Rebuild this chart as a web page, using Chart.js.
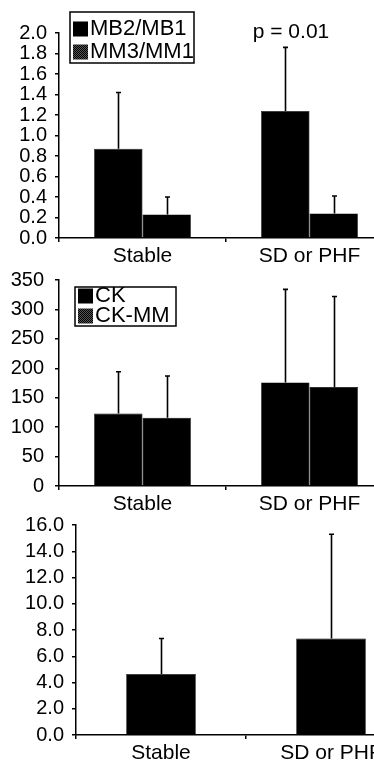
<!DOCTYPE html>
<html>
<head>
<meta charset="utf-8">
<script src="https://cdn.jsdelivr.net/npm/chart.js@4/dist/chart.umd.min.js"></script>
<style>
html,body{margin:0;padding:0;background:#fff;width:374px;height:760px;overflow:hidden;position:relative;}
.p{position:absolute;left:0;}
canvas{display:block;}
</style>
</head>
<body>
<div class="p" style="top:0px"><canvas id="c1" width="400" height="270"></canvas></div>
<div class="p" style="top:250px"><canvas id="c2" width="400" height="270"></canvas></div>
<div class="p" style="top:500px"><canvas id="c3" width="420" height="260"></canvas></div>
<script>
// ---- data ----
const categories = ["Stable", "SD or PHF"];

const ratioLabels = ["MB2/MB1", "MM3/MM1"];
const mb2mb1 = [0.87, 1.24];
const mb2mb1Upper = [1.42, 1.86];
const mm3mm1 = [0.23, 0.24];
const mm3mm1Upper = [0.40, 0.41];
const pValueText = "p = 0.01";

const ckLabels = ["CK", "CK-MM"];
const ck = [123, 176];
const ckUpper = [194, 334];
const ckmm = [116, 168];
const ckmmUpper = [187, 322];

const panel3 = [4.65, 7.35];
const panel3Upper = [7.35, 15.3];

// ---- helpers ----
const FONT = "'Liberation Sans', Arial, Helvetica, sans-serif";

function makePattern() {
  const c = document.createElement('canvas');
  c.width = 2; c.height = 2;
  const x = c.getContext('2d');
  x.fillStyle = '#555'; x.fillRect(0,0,2,2);
  x.fillStyle = '#000'; x.fillRect(0,0,1,1); x.fillRect(1,1,1,1);
  return document.createElement('canvas').getContext('2d').createPattern(c, 'repeat');
}
const hatch = makePattern();

const errBarsPlugin = {
  id: 'errBars',
  afterDatasetsDraw(chart, args, opts) {
    const ctx = chart.ctx;
    const ys = chart.scales.y;
    ctx.save();
    ctx.strokeStyle = '#000';
    ctx.lineWidth = 1.6;
    (opts.upper || []).forEach((arr, di) => {
      const meta = chart.getDatasetMeta(di);
      meta.data.forEach((bar, i) => {
        const x = Math.round(bar.x) + 0.5;
        const yTop = ys.getPixelForValue(arr[i]);
        ctx.beginPath();
        ctx.moveTo(x, bar.y);
        ctx.lineTo(x, yTop);
        ctx.moveTo(x - 2.5, yTop);
        ctx.lineTo(x + 2.5, yTop);
        ctx.stroke();
      });
    });
    ctx.restore();
  }
};

const boxLegendPlugin = {
  id: 'boxLegend',
  afterDraw(chart, args, o) {
    if (!o || !o.items) return;
    const ctx = chart.ctx;
    ctx.save();
    ctx.strokeStyle = '#000';
    ctx.lineWidth = 1.5;
    ctx.strokeRect(o.x, o.y, o.w, o.h);
    ctx.font = o.fontSize + 'px ' + FONT;
    ctx.textBaseline = 'middle';
    ctx.textAlign = 'left';
    o.items.forEach((it, i) => {
      const cy = o.y + o.firstRow + i * o.rowH;
      ctx.fillStyle = it.fill;
      ctx.fillRect(o.x + 3, cy - o.sw / 2, o.sw, o.sw);
      ctx.fillStyle = '#000';
      ctx.fillText(it.label, o.x + 4 + o.sw + 1, cy);
    });
    if (o.note) {
      ctx.font = o.note.size + 'px ' + FONT;
      ctx.textAlign = 'center';
      ctx.fillText(o.note.text, o.note.x, o.note.y);
    }
    ctx.restore();
  }
};

function makeChart(id, datasets, cfg) {
  return new Chart(document.getElementById(id), {
    type: 'bar',
    data: { labels: categories, datasets },
    plugins: [errBarsPlugin, boxLegendPlugin],
    options: {
      responsive: false,
      animation: false,
      devicePixelRatio: 1,
      layout: { padding: cfg.padding },
      plugins: {
        legend: { display: false },
        tooltip: { enabled: false },
        errBars: { upper: cfg.upper },
        boxLegend: cfg.legend || {}
      },
      datasets: { bar: { categoryPercentage: cfg.catPct, barPercentage: 1.0, borderWidth: 0.6, borderColor: '#000', borderSkipped: 'bottom' } },
      scales: {
        x: {
          grid: { display: true, drawOnChartArea: false, drawTicks: true, tickLength: 4, color: '#000', lineWidth: 1.5, offset: true },
          border: { display: true, color: '#000', width: 1.5 },
          ticks: { color: '#000', font: { family: FONT, size: 21 }, padding: cfg.xPad, maxRotation: 0 },
          afterFit(s) { s.height = cfg.xHeight; }
        },
        y: {
          min: cfg.min, max: cfg.max,
          grid: { display: true, drawOnChartArea: false, drawTicks: true, tickLength: 4, color: '#000', lineWidth: 1.5 },
          border: { display: true, color: '#000', width: 1.5 },
          ticks: { stepSize: cfg.step, color: '#000', font: { family: FONT, size: 20 }, padding: cfg.yPad,
                   callback: cfg.fmt, autoSkip: false },
          afterFit(s) { s.width = cfg.yWidth; }
        }
      }
    }
  });
}

// Panel 1
makeChart('c1', [
  { label: ratioLabels[0], data: mb2mb1, backgroundColor: '#000' },
  { label: ratioLabels[1], data: mm3mm1, backgroundColor: '#000' }
], {
  padding: { top: 33, right: 7, left: 0, bottom: 0 },
  upper: [mb2mb1Upper, mm3mm1Upper],
  catPct: 0.58, min: 0, max: 2.0, step: 0.2, fmt: v => v.toFixed(1),
  xHeight: 32, yWidth: 59, xPad: 2, yPad: 8,
  legend: { x: 70, y: 12, w: 124, h: 51, firstRow: 17, rowH: 23, sw: 15, fontSize: 22,
            items: [{ label: ratioLabels[0], fill: '#000' }, { label: ratioLabels[1], fill: hatch }],
            note: { text: pValueText, x: 291, y: 32, size: 21 } }
});

// Panel 2
makeChart('c2', [
  { label: ckLabels[0], data: ck, backgroundColor: '#000' },
  { label: ckLabels[1], data: ckmm, backgroundColor: '#000' }
], {
  padding: { top: 30, right: 7, left: 0, bottom: 0 },
  upper: [ckUpper, ckmmUpper],
  catPct: 0.58, min: 0, max: 350, step: 50, fmt: v => String(Math.round(v)),
  xHeight: 34, yWidth: 59, xPad: 2, yPad: 11,
  legend: { x: 75, y: 37, w: 101, h: 39, firstRow: 9, rowH: 20, sw: 15, fontSize: 22,
            items: [{ label: ckLabels[0], fill: '#000' }, { label: ckLabels[1], fill: hatch }] }
});

// Panel 3
makeChart('c3', [
  { label: 'value', data: panel3, backgroundColor: '#000' }
], {
  padding: { top: 25, right: 4, left: 0, bottom: 0 },
  upper: [panel3Upper],
  catPct: 0.41, min: 0, max: 16, step: 2, fmt: v => v.toFixed(1),
  xHeight: 25, yWidth: 76, xPad: 2, yPad: 8
});
</script>
</body>
</html>
